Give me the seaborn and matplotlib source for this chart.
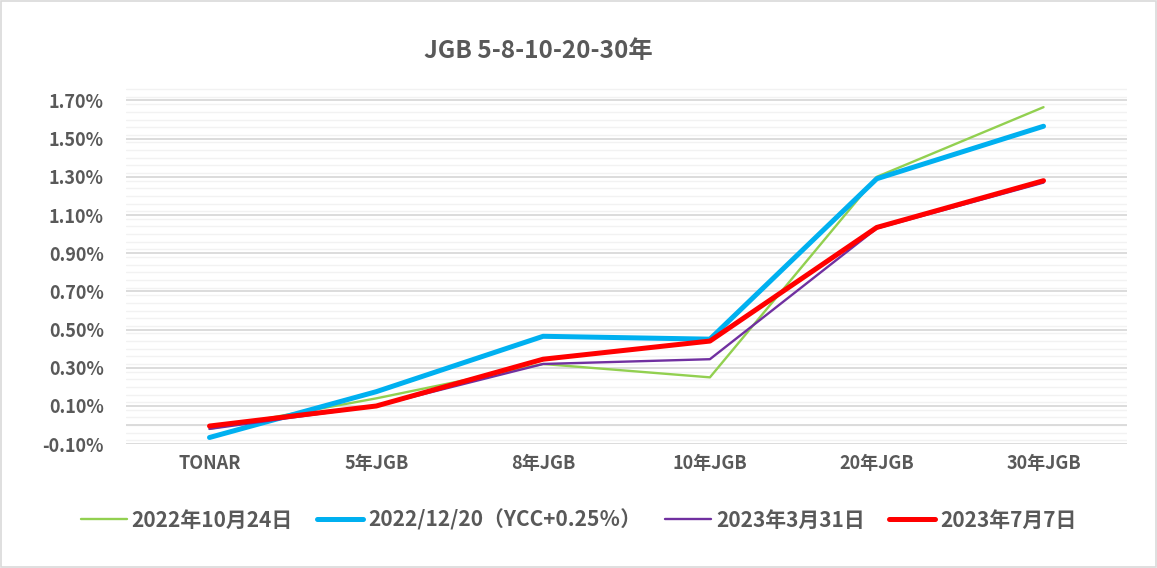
import matplotlib.pyplot as plt
import matplotlib.ticker as mticker
import pandas as pd
import seaborn as sns

# Data (yield %)
tenors = ["TONAR", "5年JGB", "8年JGB", "10年JGB", "20年JGB", "30年JGB"]
oct_2022 = [-0.02, 0.14, 0.32, 0.25, 1.30, 1.665]
dec_2022 = [-0.065, 0.175, 0.465, 0.45, 1.29, 1.565]
mar_2023 = [-0.02, 0.10, 0.32, 0.345, 1.03, 1.27]
jul_2023 = [-0.005, 0.10, 0.345, 0.44, 1.035, 1.28]
series_names = ["2022年10月24日", "2022/12/20（YCC+0.25％）", "2023年3月31日", "2023年7月7日"]

colors = ["#92D050", "#00B0F0", "#7030A0", "#FF0000"]
widths = [1.7, 3.6, 1.7, 3.6]

df = pd.DataFrame({
    "tenor": tenors * 4,
    "value": oct_2022 + dec_2022 + mar_2023 + jul_2023,
    "series": [s for s in series_names for _ in tenors],
})
df["x"] = list(range(len(tenors))) * 4

sns.set_theme(style="white")
plt.rcParams["font.family"] = ["Noto Sans CJK JP", "DejaVu Sans"]

fig = plt.figure(figsize=(11.57, 5.68), dpi=100)
ax = fig.add_axes([0.109, 0.218, 0.865, 0.632])

for name, c, w in zip(series_names, colors, widths):
    sub = df[df["series"] == name]
    sns.lineplot(data=sub, x="x", y="value", ax=ax, color=c, linewidth=w,
                 label=name, solid_capstyle="round", solid_joinstyle="round")

ax.set_xlim(-0.5, len(tenors) - 0.5)
ax.set_ylim(-0.10, 1.78)
ax.yaxis.set_major_locator(mticker.FixedLocator([-0.1 + 0.2 * i for i in range(10)]))
ax.yaxis.set_minor_locator(mticker.MultipleLocator(0.04))
ax.yaxis.set_major_formatter(mticker.FuncFormatter(lambda v, p: f"{v:.2f}%"))
ax.grid(axis="y", which="major", color="#D9D9D9", linewidth=1.3, zorder=0)
ax.grid(axis="y", which="minor", color="#F2F2F2", linewidth=1.0, zorder=0)
ax.axhline(0, color="#D9D9D9", linewidth=1.3, zorder=1)
ax.set_axisbelow(True)

ax.set_xticks(range(len(tenors)))
ax.set_xticklabels(tenors)
ax.tick_params(axis="both", which="both", length=0, labelsize=13, labelcolor="#595959")
ax.tick_params(axis="x", pad=7)
ax.tick_params(axis="y", pad=16)
for lab in ax.get_xticklabels() + ax.get_yticklabels():
    lab.set_fontweight("bold")
ax.set_xlabel("")
ax.set_ylabel("")
for s in ax.spines.values():
    s.set_visible(False)

fig.text(0.465, 0.91, "JGB 5-8-10-20-30年", ha="center", va="center",
         fontsize=17.5, fontweight="bold", color="#595959")

ax.legend_.remove()
handles, labels = ax.get_legend_handles_labels()
leg = fig.legend(handles, labels, loc="center", bbox_to_anchor=(0.5, 0.085), ncol=4,
                 frameon=False, handlelength=2.2, handletextpad=0.25, columnspacing=1.15,
                 prop={"weight": "bold", "size": 15})
for t in leg.get_texts():
    t.set_color("#595959")

# chart border
fig.patches.append(plt.Rectangle((0.001, 0.001), 0.998, 0.998, transform=fig.transFigure,
                                 fill=False, edgecolor="#D9D9D9", linewidth=1.2))

fig.savefig("out.png", dpi=100)
